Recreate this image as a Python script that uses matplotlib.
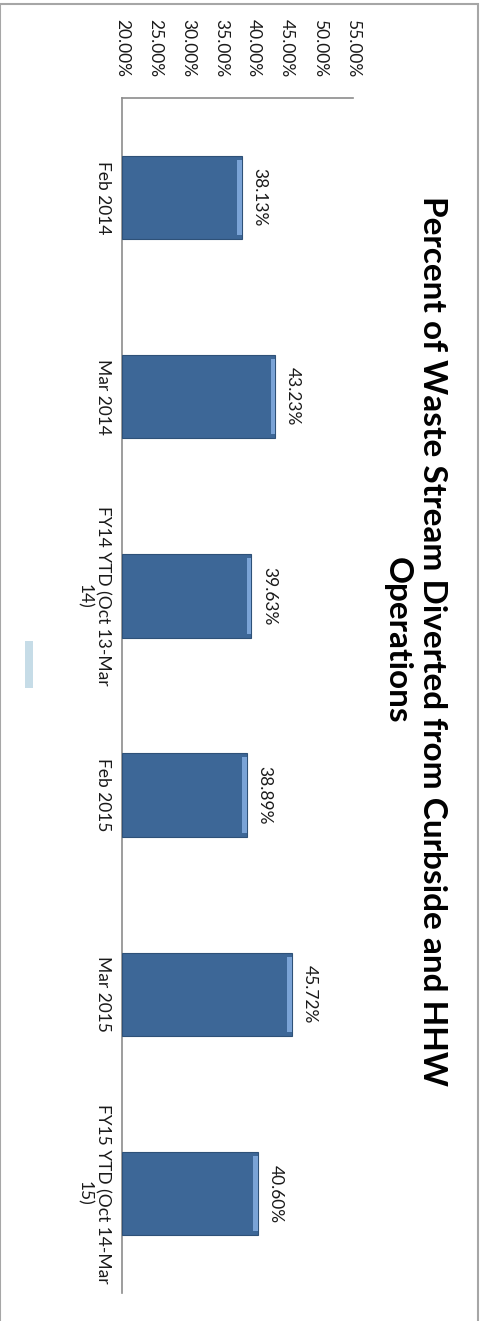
import matplotlib
matplotlib.use("Agg")
import matplotlib.pyplot as plt
from matplotlib.patches import Rectangle
from matplotlib.ticker import FuncFormatter

plt.rcParams["font.family"] = ["Lato", "DejaVu Sans"]

categories = ["Feb 2014", "Mar 2014", "FY14 YTD (Oct 13-Mar\n14)",
              "Feb 2015", "Mar 2015", "FY15 YTD (Oct 14-Mar\n15)"]
values = [0.3813, 0.4323, 0.3963, 0.3889, 0.4572, 0.4060]
value_labels = ["38.13%", "43.23%", "39.63%", "38.89%", "45.72%", "40.60%"]
ticks = [0.20, 0.25, 0.30, 0.35, 0.40, 0.45, 0.50, 0.55]
title = "Percent of Waste Stream Diverted from Curbside and HHW\nOperations"

fig = plt.figure(figsize=(4.82, 13.21), dpi=100)
ax = fig.add_axes([0.253, 0.021, 0.479, 0.905])

pos = range(len(categories))
base = 0.20
widths = [v - base for v in values]

# main bars, with a lighter bevel strip at the end
ax.barh(pos, widths, left=base, height=0.42, color="#3d6797",
        edgecolor="#2e5178", linewidth=0.8, zorder=3)
ax.barh(pos, [0.007] * len(values), left=[v - 0.007 for v in values],
        height=0.38, color="#7aa3d6", linewidth=0, zorder=4)

for p, v, lab in zip(pos, values, value_labels):
    ax.text(v + 0.015, p, lab, rotation=270, ha="left", va="center",
            fontsize=12.5, color="#1a1a1a")

ax.set_xlim(0.20, 0.55)
ax.set_ylim(len(categories) - 0.5, -0.5)
ax.xaxis.tick_top()
ax.set_xticks(ticks)
ax.xaxis.set_major_formatter(FuncFormatter(lambda x, _: f"{x * 100:.2f}%"))
ax.set_yticks(list(pos))
ax.set_yticklabels(categories, rotation=270, ha="right", va="center",
                   multialignment="center")
ax.tick_params(axis="x", length=0, pad=15, labelsize=12.5, labelcolor="#1a1a1a",
               labelrotation=270)
ax.tick_params(axis="y", length=0, pad=8, labelsize=12.5, labelcolor="#1a1a1a")

for s in ["right", "bottom"]:
    ax.spines[s].set_visible(False)
for s in ["left", "top"]:
    ax.spines[s].set_color("#8c8c8c")
    ax.spines[s].set_linewidth(1.2)

fig.text(0.861, 0.515, title, rotation=270, ha="center", va="center",
         multialignment="center", fontsize=24, fontweight="bold", color="black",
         linespacing=1.25)

# small leftover legend marker
fig.patches.append(Rectangle((0.051, 0.479), 0.018, 0.036, transform=fig.transFigure,
                             facecolor="#c6dce7", edgecolor="none"))

# outer chart border (open at the bottom)
fig.patches.append(Rectangle((0.001, -0.01), 0.99, 1.007, transform=fig.transFigure,
                             facecolor="none", edgecolor="#a6a6a6", linewidth=1.5))

fig.savefig("out.png", dpi=100)
